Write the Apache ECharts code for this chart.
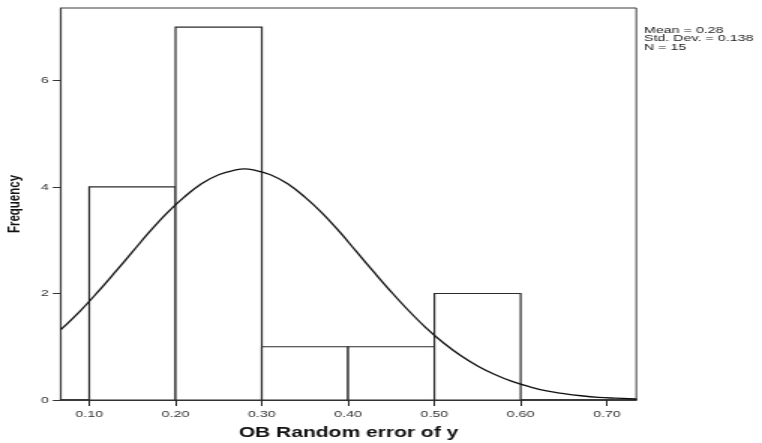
<!DOCTYPE html>
<html>
<head>
<meta charset="utf-8">
<script src="https://cdn.jsdelivr.net/npm/echarts@6/dist/echarts.min.js"></script>
<style>
  html, body { margin: 0; padding: 0; background: #fff; overflow: hidden; }
  /* the chart is laid out narrow and widened horizontally */
  #chart { width: 508px; height: 443px; transform: scaleX(1.5); transform-origin: 0 0; }
</style>
</head>
<body>
<div id="chart"></div>
<script>
// Histogram bins
const binStart = [0.10, 0.20, 0.30, 0.40, 0.50];
const binEnd = [0.20, 0.30, 0.40, 0.50, 0.60];
const frequency = [4, 7, 1, 1, 2];

// Axis ticks
const xTicks = [0.10, 0.20, 0.30, 0.40, 0.50, 0.60, 0.70];
const yTicks = [0, 2, 4, 6];
const xRange = [0.067, 0.734];
const yMax = 7.36;

// Normal curve overlay (x, expected frequency)
const curveX = [0.067, 0.09, 0.11, 0.13, 0.15, 0.17, 0.19, 0.21, 0.23, 0.25, 0.27, 0.28, 0.29, 0.31, 0.33, 0.35, 0.37, 0.39, 0.41, 0.43, 0.45, 0.47, 0.49, 0.51, 0.53, 0.55, 0.57, 0.59, 0.61, 0.63, 0.65, 0.67, 0.69, 0.71, 0.734];
const curveY = [1.32, 1.68, 2.03, 2.40, 2.78, 3.16, 3.51, 3.81, 4.06, 4.23, 4.32, 4.34, 4.32, 4.23, 4.06, 3.81, 3.51, 3.16, 2.78, 2.40, 2.03, 1.68, 1.36, 1.08, 0.84, 0.64, 0.48, 0.35, 0.25, 0.17, 0.12, 0.08, 0.05, 0.034, 0.019];

// Summary statistics
const statLines = ['Mean = 0.28', 'Std. Dev. = 0.138', 'N = 15'];

const font = "'Liberation Sans', Arial, sans-serif";
const chart = echarts.init(document.getElementById('chart'), null, { renderer: 'canvas' });

chart.setOption({
  animation: false,
  backgroundColor: '#fff',
  grid: {
    left: 40.5, right: 83.8, top: 8, bottom: 43,
    outerBoundsMode: 'none',
    containLabel: false,
    show: true, borderColor: '#3a3a3a', borderWidth: 1, backgroundColor: 'transparent'
  },
  xAxis: {
    type: 'value',
    min: xRange[0], max: xRange[1],
    name: 'OB Random error of y',
    nameLocation: 'middle',
    nameGap: 26,
    nameTextStyle: { fontFamily: font, fontWeight: 'bold', fontSize: 14, color: '#111' },
    axisLine: { show: true, onZero: false, lineStyle: { color: '#1a1a1a', width: 1.5 } },
    axisTick: { show: true, length: 6, customValues: xTicks, lineStyle: { color: '#222', width: 1 } },
    axisLabel: {
      customValues: xTicks, margin: 9,
      formatter: v => v.toFixed(2),
      fontFamily: font, fontSize: 9.5, color: '#333'
    },
    splitLine: { show: false }
  },
  yAxis: {
    type: 'value',
    min: 0, max: yMax,
    name: 'Frequency',
    nameLocation: 'middle',
    nameGap: 19,
    nameTextStyle: { fontFamily: font, fontWeight: 'bold', fontSize: 11.5, color: '#111' },
    axisLine: { show: true, lineStyle: { color: '#3a3a3a', width: 1.2 } },
    axisTick: { show: true, length: 5.3, customValues: yTicks, lineStyle: { color: '#333', width: 1 } },
    axisLabel: {
      customValues: yTicks, margin: 8,
      fontFamily: font, fontSize: 9.5, color: '#333'
    },
    splitLine: { show: false }
  },
  graphic: [{
    type: 'text',
    left: 429.3, top: 25,
    style: {
      text: statLines.join('\n'),
      font: '9.5px ' + font,
      lineHeight: 8.7,
      fill: '#222'
    }
  }],
  series: [
    {
      type: 'custom',
      data: binStart.map((s, i) => [s, binEnd[i], frequency[i]]),
      encode: { x: [0, 1], y: 2 },
      renderItem: (params, api) => {
        const p0 = api.coord([api.value(0), 0]);
        const p1 = api.coord([api.value(1), api.value(2)]);
        return {
          type: 'rect',
          shape: { x: p0[0], y: p1[1], width: p1[0] - p0[0], height: p0[1] - p1[1] },
          style: { fill: '#fff', stroke: '#2a2a2a', lineWidth: 1.2 }
        };
      },
      z: 2
    },
    {
      type: 'line',
      data: curveX.map((x, i) => [x, curveY[i]]),
      smooth: 0.4,
      showSymbol: false,
      lineStyle: { color: '#111', width: 1.3 },
      z: 3
    }
  ]
});
</script>
</body>
</html>
